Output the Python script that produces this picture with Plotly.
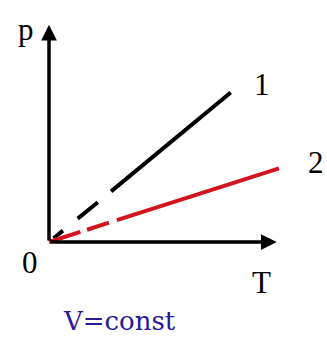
import plotly.graph_objects as go

# Data (in abstract units: T and p)
T1_dashed = [0.0, 2.7]
p1_dashed = [0.0, 2.2]
T1_solid = [2.7, 7.9]
p1_solid = [2.2, 6.5]

T2_dashed = [0.0, 2.95]
p2_dashed = [0.0, 0.95]
T2_solid = [2.95, 10.0]
p2_solid = [0.95, 3.2]

T_axis_max = 9.9
p_axis_max = 9.45

line_labels = ["1", "2"]
axis_labels = ["p", "T", "0"]
caption = "V=const"

BLACK = "#000000"
RED = "#d2141e"

fig = go.Figure()

fig.add_trace(go.Scatter(x=T1_dashed, y=p1_dashed, mode="lines",
                         line=dict(color=BLACK, width=4, dash="0px,6px,12px,19px,26px,200px"),
                         hoverinfo="skip"))
fig.add_trace(go.Scatter(x=T1_solid, y=p1_solid, mode="lines",
                         line=dict(color=BLACK, width=4), hoverinfo="skip"))
fig.add_trace(go.Scatter(x=T2_dashed, y=p2_dashed, mode="lines",
                         line=dict(color=RED, width=4, dash="33px,7px,23px,200px"),
                         hoverinfo="skip"))
fig.add_trace(go.Scatter(x=T2_solid, y=p2_solid, mode="lines",
                         line=dict(color=RED, width=4), hoverinfo="skip"))

# axes as arrows
arrow_common = dict(showarrow=True, arrowhead=2, arrowsize=0.9, arrowwidth=3.5,
                    arrowcolor=BLACK, xref="x", yref="y", axref="x", ayref="y", text="")
fig.add_annotation(x=T_axis_max, y=0, ax=0, ay=0, **arrow_common)
fig.add_annotation(x=0, y=p_axis_max, ax=0, ay=0, **arrow_common)

serif = "Liberation Serif, Times New Roman, serif"
txt = dict(showarrow=False, xref="x", yref="y", font=dict(family=serif, size=31, color=BLACK))
fig.add_annotation(x=-1.02, y=9.25, text=axis_labels[0], **txt)
fig.add_annotation(x=9.25, y=-1.75, text=axis_labels[1], **txt)
fig.add_annotation(x=-0.83, y=-0.9, text=axis_labels[2], **txt)
fig.add_annotation(x=9.25, y=6.85, text=line_labels[0], **txt)
fig.add_annotation(x=11.6, y=3.45, text=line_labels[1], **txt)
fig.add_annotation(x=3.05, y=-3.45, text=caption, showarrow=False, xref="x", yref="y",
                   font=dict(family="DejaVu Serif, serif", size=26, color="#2a1896"))

scale = 23.0
fig.update_layout(
    width=327, height=338,
    margin=dict(l=0, r=0, t=0, b=0),
    paper_bgcolor="white", plot_bgcolor="white",
    showlegend=False,
    xaxis=dict(range=[-49 / scale, (327 - 49) / scale], visible=False, fixedrange=True),
    yaxis=dict(range=[-96 / scale, 242 / scale], visible=False, fixedrange=True),
)

fig.write_html("out.html", config={"displayModeBar": False},
               post_script="document.body.style.margin='0';document.body.style.overflow='hidden';")
